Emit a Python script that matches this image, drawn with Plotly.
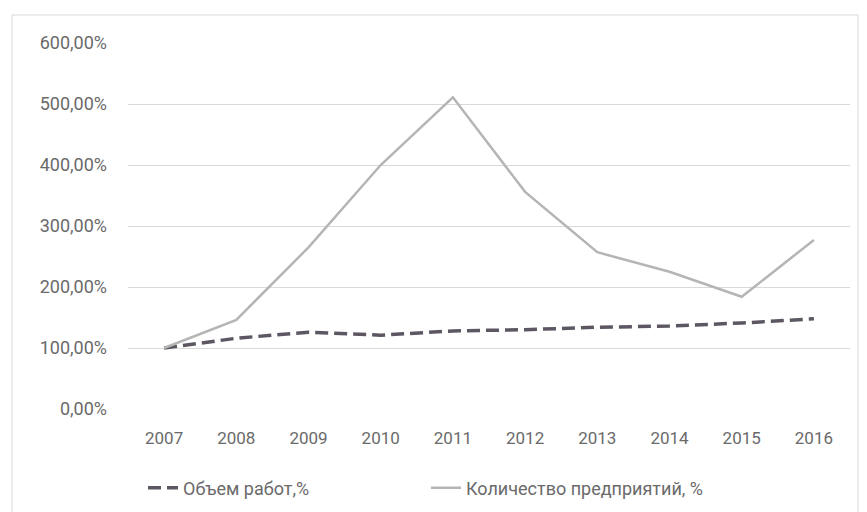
import plotly.graph_objects as go

years = ["2007", "2008", "2009", "2010", "2011", "2012", "2013", "2014", "2015", "2016"]
volume_pct = [100, 116, 126, 121, 128, 130, 134, 136, 141, 148]
companies_pct = [100, 146, 265, 400, 511, 356, 257, 225, 184, 277]
y_ticks = [0, 100, 200, 300, 400, 500, 600]
y_tick_labels = ["0,00%", "100,00%", "200,00%", "300,00%", "400,00%", "500,00%", "600,00%"]

FONT = "Roboto, sans-serif"
TXT = "#6a6a6a"

fig = go.Figure()
fig.add_trace(go.Scatter(
    x=years, y=volume_pct, mode="lines", name="Объем работ,%",
    line=dict(color="#5c5762", width=3.5, dash="13px,6px"),
))
fig.add_trace(go.Scatter(
    x=years, y=companies_pct, mode="lines", name="Количество предприятий, %",
    line=dict(color="#b5b5b5", width=2.5),
))

OFF = 8  # page body margin
W, H = 867 - OFF, 512 - OFF
L, T = 128 - OFF, 43 - OFF
R = 867 - 850
B = 512 - 409
pw, ph = W - L - R, H - T - B

def px_x(x):
    return (x - OFF - L) / pw

def px_y(y):
    return (T + ph - (y - OFF)) / ph

fig.add_shape(type="rect", xref="paper", yref="paper",
              x0=px_x(12), x1=px_x(858), y0=px_y(530), y1=px_y(15),
              line=dict(color="#d9d9d9", width=1), fillcolor="rgba(0,0,0,0)", layer="below")

fig.update_layout(
    width=W, height=H,
    margin=dict(l=L, r=R, t=T, b=B, autoexpand=False),
    paper_bgcolor="white", plot_bgcolor="white",
    font=dict(family=FONT, size=17, color=TXT),
    showlegend=True,
    legend=dict(orientation="h", x=px_x(143), xanchor="left", y=px_y(488), yanchor="middle",
                font=dict(family=FONT, size=18, color=TXT),
                tracegroupgap=0, entrywidth=238, bgcolor="rgba(0,0,0,0)"),
    xaxis=dict(type="category", range=[-0.5, 9.5], showgrid=False, zeroline=False,
               showline=False, ticks="", ticklabelstandoff=17,
               tickfont=dict(family=FONT, size=17, color=TXT)),
    yaxis=dict(range=[0, 600], tickvals=y_ticks, ticktext=y_tick_labels,
               showgrid=True, gridcolor="#d9d9d9", gridwidth=1, zeroline=False,
               showline=False, ticks="", ticklabelstandoff=20,
               tickfont=dict(family=FONT, size=18, color=TXT)),
)

fig.write_html("out.html")
